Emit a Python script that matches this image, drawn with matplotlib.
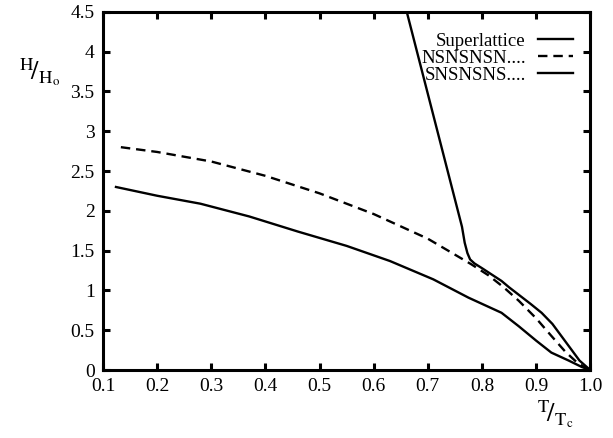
import numpy as np
import matplotlib.pyplot as plt

plt.rcParams['font.family'] = ['Liberation Serif', 'DejaVu Serif']
plt.rcParams['mathtext.fontset'] = 'stix'

#----------------------------------------------------------#
# Data

t_super = [0.661, 0.763, 0.768, 0.773, 0.778, 0.786, 0.80, 0.836, 0.85, 0.89,
           0.91, 0.93, 0.955, 0.98, 1.0]
h_super = [4.50, 1.80, 1.60, 1.47, 1.39, 1.34, 1.28, 1.12, 1.04, 0.83,
           0.72, 0.58, 0.35, 0.12, 0.0]

t_nsn = [0.133, 0.2, 0.3, 0.4, 0.5, 0.6, 0.7, 0.78, 0.812, 0.84, 0.868, 0.9,
         0.928, 0.954, 0.978, 1.0]
h_nsn = [2.80, 2.74, 2.62, 2.44, 2.22, 1.96, 1.65, 1.33, 1.19, 1.04, 0.87, 0.65,
         0.43, 0.23, 0.08, 0.0]

t_sns = [0.124, 0.2, 0.28, 0.37, 0.46, 0.55, 0.63, 0.71, 0.775, 0.836, 0.868,
         0.9, 0.928, 0.96, 0.984, 1.0]
h_sns = [2.30, 2.19, 2.09, 1.93, 1.74, 1.56, 1.37, 1.14, 0.91, 0.72, 0.55,
         0.37, 0.22, 0.12, 0.04, 0.0]

xticks = [0.1, 0.2, 0.3, 0.4, 0.5, 0.6, 0.7, 0.8, 0.9, 1.0]
yticks = [0, 0.5, 1, 1.5, 2, 2.5, 3, 3.5, 4, 4.5]

#----------------------------------------------------------#
# Plotting

fig = plt.figure(figsize=(6.13, 4.38), dpi=100)
ax = fig.add_axes([0.168, 0.155, 0.795, 0.818])

ax.plot(t_super, h_super, color='black', lw=1.7, label='Superlattice')
ax.plot(t_nsn, h_nsn, color='black', lw=1.7, dashes=(4, 2.5), label='NSNSNSN....')
ax.plot(t_sns, h_sns, color='black', lw=1.7, label='SNSNSNS....')

ax.set_xlim(0.1, 1.0)
ax.set_ylim(0, 4.5)
ax.set_xticks(xticks)
ax.set_xticklabels(['%.1f' % v for v in xticks])
ax.set_yticks(yticks)
ax.set_yticklabels(['%g' % v for v in yticks])
ax.tick_params(direction='in', top=True, right=True, length=5, width=2.2,
               labelsize=14, pad=6)
for s in ax.spines.values():
    s.set_linewidth(2.2)

leg = ax.legend(loc='upper right', bbox_to_anchor=(1.0, 0.989), frameon=False,
                markerfirst=False, fontsize=13.5, handlelength=1.9,
                handletextpad=0.65, labelspacing=0.0, borderaxespad=0.6,
                borderpad=0.3)

fig.text(0.065, 0.835, r'$^{\mathrm{H}}\!/_{\mathrm{H_o}}$', fontsize=19,
         ha='center', va='center')
fig.text(0.905, 0.055, r'$^{\mathrm{T}}\!/_{\mathrm{T_c}}$', fontsize=19,
         ha='center', va='center')

fig.savefig('out.png', dpi=100)
